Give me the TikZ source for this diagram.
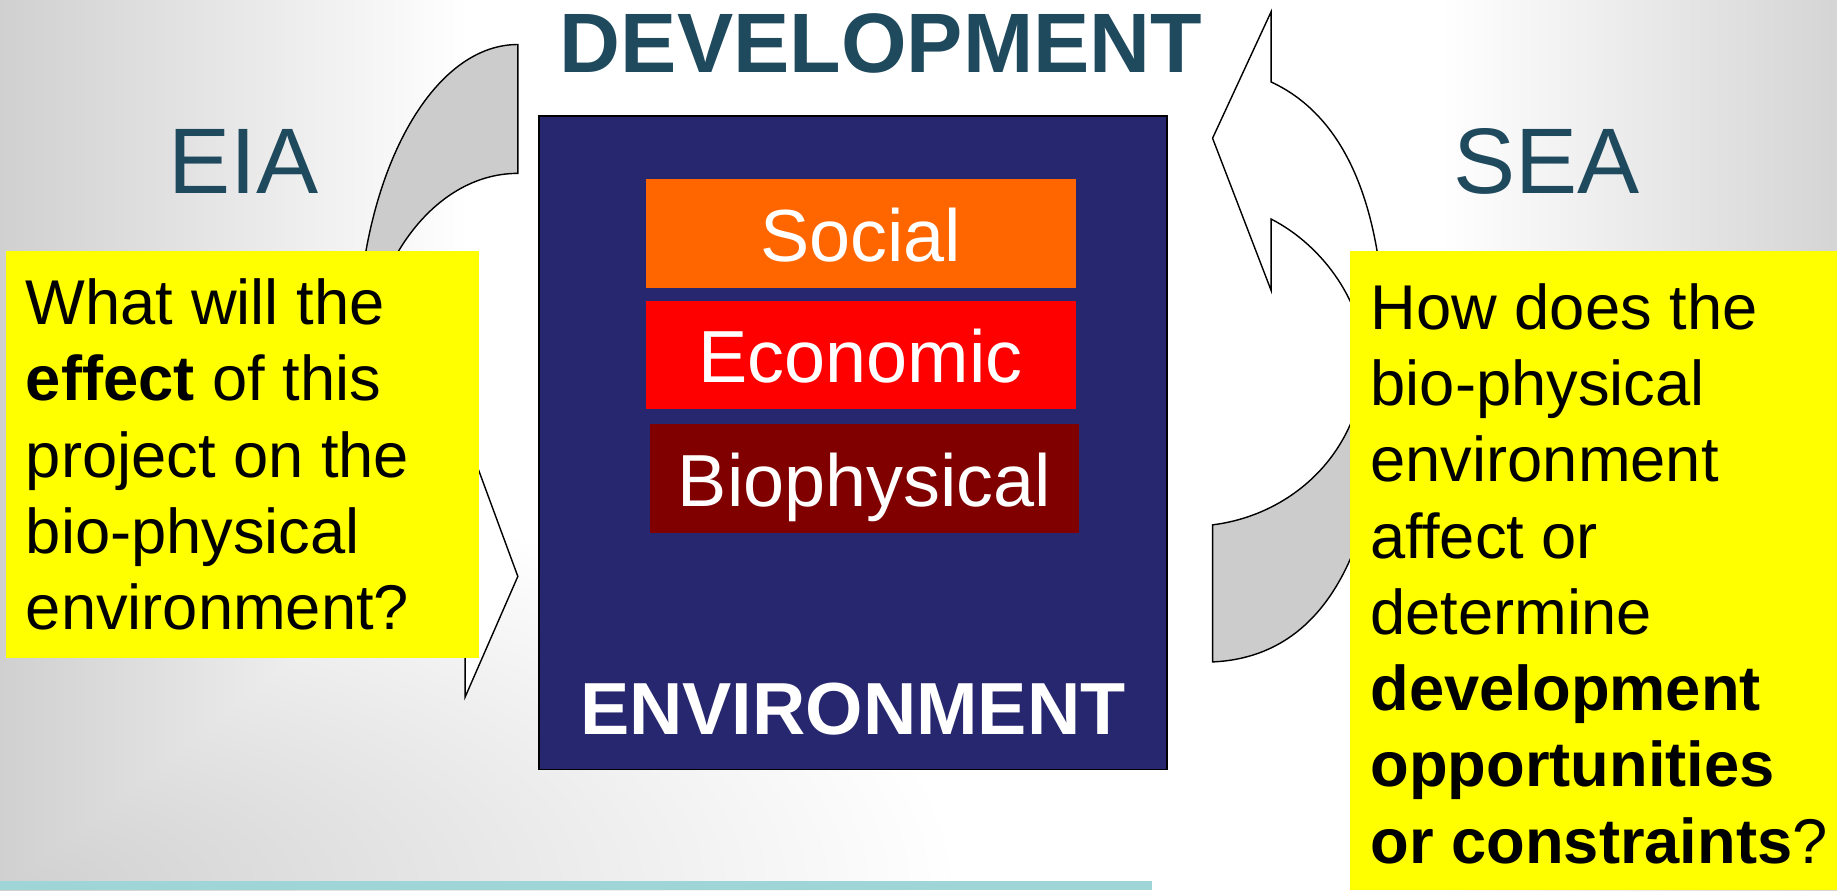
\documentclass[tikz,border=0pt]{standalone}
\usepackage{fontspec}
\setmainfont{Liberation Sans}
\usetikzlibrary{fit,positioning}
\definecolor{navy}{RGB}{39,39,111}
\definecolor{slate}{RGB}{31,73,93}
\definecolor{orng}{RGB}{255,102,0}
\definecolor{maroon}{RGB}{128,0,0}
\definecolor{lemon}{RGB}{255,255,0}
\definecolor{arrowgray}{RGB}{204,204,204}
\definecolor{aqua}{RGB}{160,213,216}
\definecolor{haze}{RGB}{208,208,208}
\pgfdeclareradialshading{cornerfade}{\pgfpoint{0bp}{0bp}}{color(0bp)=(haze); color(25bp)=(white); color(50bp)=(white)}
\tikzset{
  layer/.style={inner sep=0pt},
  layertext/.style={inner sep=0pt,text=white,text height=15pt,text depth=0pt,font=\fontsize{21}{25}\selectfont},
  qbox/.style={fill=lemon,inner sep=0pt},
  qtext/.style={inner sep=0pt,align=left,font=\fontsize{18}{21.7}\selectfont},
  heading/.style={text=slate,font=\fontsize{26.5}{30}\selectfont}
}
\begin{document}
\begin{tikzpicture}[x=0.11716mm,y=-0.11716mm]
        \fill[white] (0,0) rectangle (1568,760);
        \useasboundingbox (0,0) rectangle (1568,760);
        \begin{scope}[blend mode=darken]
          \shade[shading=cornerfade] (-820,400) rectangle (820,1120);
          \shade[left color=haze,right color=white] (0,0) rectangle (400,760);
          \shade[left color=white,right color=haze!90] (1230,0) rectangle (1568,760);
        \end{scope}
        \fill[aqua] (0,752) rectangle (983,760);
        % EIA arrow
        \draw[fill=arrowgray] (442,38) .. controls (366,38) and (305,155) .. (305,299) -- (310,330)
          .. controls (310,230) and (369,148) .. (442,148) -- cycle;
        \draw[fill=white] (397,370) -- (442,492) -- (397,595) -- (397,540) -- (380,450) -- cycle;
        % SEA arrow
        \draw[fill=arrowgray] (1035,448) .. controls (1100,440) and (1160,390) .. (1165,310) -- (1182,300)
          .. controls (1182,430) and (1150,560) .. (1035,565) -- cycle;
        \draw[fill=white] (1085,187) .. controls (1130,210) and (1165,260) .. (1165,310) -- (1182,300)
          .. controls (1182,180) and (1150,100) .. (1085,70) -- (1085,10) -- (1035,118) -- (1085,248) -- cycle;
        \node[draw=black,fill=navy,inner sep=0pt,fit={(460,99) (996,657)}] (env) {};
        \node[layer,fill=orng,fit={(551,153) (918,246)}] (social) {};
        \node[layer,fill=red,fit={(551,257) (918,349)}] (econ) {};
        \node[layer,fill=maroon,fit={(555,362) (921,455)}] (bio) {};
        \node[layertext] (socialtxt) at ([yshift=-0.1mm]social.center) {Social};
        \node[layertext] (econtxt) at ([yshift=-0.1mm]econ.center) {Economic};
        \node[layertext] (biotxt) at ([yshift=-0.2mm]bio.center) {Biophysical};
        \node[text=white,font=\bfseries\fontsize{21}{25}\selectfont] (envlabel) at (728,605) {ENVIRONMENT};
        \node[text=slate,font=\bfseries\fontsize{24}{29}\selectfont] (dev) at (752,37) {DEVELOPMENT};
        \node[heading] (eia) at (208,138) {EIA};
        \node[heading] (sea) at (1320,138) {SEA};
        \node[qbox,fit={(5,214) (409,562)}] (eiaq) {};
        \node[qtext,anchor=west] (eiatext) at ([xshift=2mm]eiaq.west)
          {What will the\\\textbf{effect} of this\\project on the\\bio-physical\\environment?};
        \node[qbox,fit={(1152,214) (1568,760)}] (seaq) {};
        \node[qtext,anchor=west] (seatext) at ([xshift=2.1mm,yshift=-0.3mm]seaq.west)
          {How does the\\bio-physical\\environment\\affect or\\determine\\\textbf{development}\\\textbf{opportunities}\\\textbf{or constraints}?};
      \end{tikzpicture}
\end{document}
